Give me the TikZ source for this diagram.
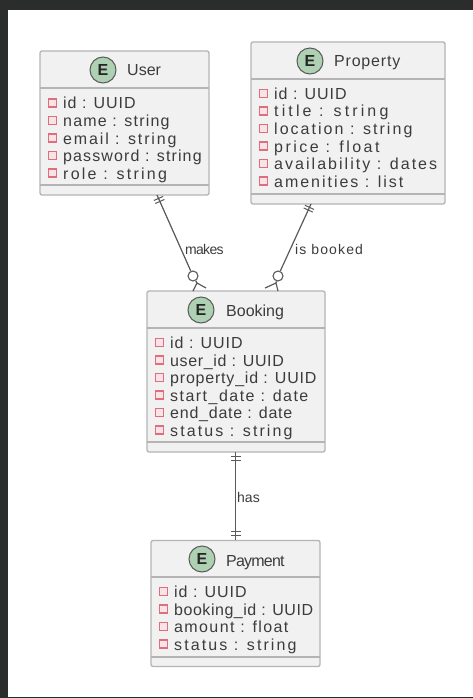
\documentclass[tikz,border=0pt]{standalone}
\usepackage{fontspec}
\setmainfont{Liberation Sans}
\definecolor{framegray}{HTML}{2B2D2D}
\definecolor{boxfill}{HTML}{F1F1F1}
\definecolor{boxline}{HTML}{B4B4B4}
\definecolor{inkgray}{HTML}{3C3C3C}
\definecolor{linegray}{HTML}{5A5A5A}
\definecolor{spotgreen}{HTML}{ADD1B2}
\definecolor{markred}{HTML}{DE6E7C}
\definecolor{markfill}{HTML}{F8E4E6}
\tikzstyle{entity}=[draw=boxline,fill=boxfill,line width=1.3pt,rounded corners=2pt,inner sep=0pt]
\tikzstyle{divider}=[draw=boxline,line width=1.3pt]
\tikzstyle{spot}=[circle,draw=linegray,fill=spotgreen,line width=1pt,minimum size=26pt,inner sep=0pt,text=black!85,font=\fontsize{16}{16}\selectfont\bfseries]
\tikzstyle{title}=[anchor=base west,inner sep=0pt,text=inkgray]
\tikzstyle{marker}=[rectangle,draw=markred,fill=markfill,line width=1.6pt,minimum size=8pt,inner sep=0pt]
\tikzstyle{attr}=[anchor=base west,inner sep=0pt,text=inkgray]
\tikzstyle{ring}=[circle,draw=linegray,fill=white,line width=1.1pt,minimum size=10pt,inner sep=0pt]
\tikzstyle{rel}=[draw=linegray,line width=1.2pt]
\tikzstyle{tick}=[fill=linegray,minimum width=1pt,minimum height=10pt,inner sep=0pt,sloped]
\tikzstyle{rellabel}=[anchor=base west,inner sep=0pt,text=inkgray]
\tikzset{ls/.style={font=\fontsize{16}{16}\selectfont\addfontfeature{LetterSpace=#1}}}
\tikzset{ts/.style={font=\fontsize{16}{16}\selectfont\addfontfeature{LetterSpace=#1}}}
\tikzset{rs/.style={font=\fontsize{14}{14}\selectfont\addfontfeature{LetterSpace=#1}}}

\begin{document}
\begin{tikzpicture}[x=1pt,y=-1pt]
\useasboundingbox (0,0) rectangle (473,698);
\fill[framegray] (0,0) rectangle (473,698);
\fill[white] (8,10) rectangle (473,696.5);

\node[entity,minimum width=169pt,minimum height=144pt] at (124.5,123) (user) {};
\draw[divider] (40,88) -- (209,88);
\draw[divider] (40,185) -- (209,185);
\node[spot] at (103,70) (userspot) {E};
\node[title,ts=0] at (127,76) (usertitle) {User};
\node[attr,ls=6] at (63,109) (userid) {id : UUID};
\node[attr,ls=7.5] at (63,126.5) (username) {name : string};
\node[attr,ls=11.7] at (63,144) (useremail) {email : string};
\node[attr,ls=7] at (63,161.5) (userpass) {password : string};
\node[attr,ls=14] at (63,179) (userrole) {role : string};
\node[marker] at (52.5,103) (usermark1) {};
\node[marker] at (52.5,120.5) (usermark2) {};
\node[marker] at (52.5,138) (usermark3) {};
\node[marker] at (52.5,155.5) (usermark4) {};
\node[marker] at (52.5,173) (usermark5) {};

\node[entity,minimum width=194pt,minimum height=162pt] at (348,123) (property) {};
\draw[divider] (251,79) -- (445,79);
\draw[divider] (251,194) -- (445,194);
\node[spot] at (310,61) (propspot) {E};
\node[title,ts=5] at (334,67) (proptitle) {Property};
\node[attr,ls=6] at (274,99.5) (propid) {id : UUID};
\node[attr,ls=19.5] at (274,117) (proptitl) {title : string};
\node[attr,ls=12.7] at (274,134.5) (propplace) {location : string};
\node[attr,ls=15.5] at (274,152) (propprice) {price : float};
\node[attr,ls=12.7] at (274,169.5) (propavail) {availability : dates};
\node[attr,ls=12.3] at (274,187) (propamen) {amenities : list};
\node[marker] at (263.5,93.5) (propmark1) {};
\node[marker] at (263.5,111) (propmark2) {};
\node[marker] at (263.5,128.5) (propmark3) {};
\node[marker] at (263.5,146) (propmark4) {};
\node[marker] at (263.5,163.5) (propmark5) {};
\node[marker] at (263.5,181) (propmark6) {};

\node[entity,minimum width=178pt,minimum height=161pt] at (236,371.5) (booking) {};
\draw[divider] (147,328) -- (325,328);
\draw[divider] (147,442) -- (325,442);
\node[spot] at (201,310) (bookspot) {E};
\node[title,ts=0] at (226,316) (booktitle) {Booking};
\node[attr,ls=6] at (170,348.5) (bookid) {id : UUID};
\node[attr,ls=4] at (170,366) (bookuser) {user\_id : UUID};
\node[attr,ls=5] at (170,383.5) (bookprop) {property\_id : UUID};
\node[attr,ls=9.2] at (170,401) (bookstart) {start\_date : date};
\node[attr,ls=4.8] at (170,418.5) (bookend) {end\_date : date};
\node[attr,ls=13] at (170,436) (bookstatus) {status : string};
\node[marker] at (159.5,342.5) (bookmark1) {};
\node[marker] at (159.5,360) (bookmark2) {};
\node[marker] at (159.5,377.5) (bookmark3) {};
\node[marker] at (159.5,395) (bookmark4) {};
\node[marker] at (159.5,412.5) (bookmark5) {};
\node[marker] at (159.5,430) (bookmark6) {};

\node[entity,minimum width=169pt,minimum height=126pt] at (235.5,603.5) (payment) {};
\draw[divider] (151,577) -- (320,577);
\draw[divider] (151,657) -- (320,657);
\node[spot] at (202,559) (payspot) {E};
\node[title,ts=-5] at (226,566) (paytitle) {Payment};
\node[attr,ls=6] at (174,597.5) (payid) {id : UUID};
\node[attr,ls=3.3] at (174,615) (paybook) {booking\_id : UUID};
\node[attr,ls=8.7] at (174,632.5) (payamount) {amount : float};
\node[attr,ls=13] at (174,650) (paystatus) {status : string};
\node[marker] at (163.5,591.5) (paymark1) {};
\node[marker] at (163.5,609) (paymark2) {};
\node[marker] at (163.5,626.5) (paymark3) {};
\node[marker] at (163.5,644) (paymark4) {};

\coordinate (userfoot) at (157,195);
\coordinate (propfoot) at (311,204);
\coordinate (bookfoot) at (235.5,452);
\coordinate (payhead) at (235.5,540);
\node[ring] at (193,276) (makesring) {};
\node[ring] at (278,276) (bookedring) {};
\coordinate (makesapex) at (197,283);
\coordinate (makesleft) at (193,291);
\coordinate (makesright) at (206,288);
\coordinate (bookedapex) at (276,283);
\coordinate (bookedleft) at (265,288);
\coordinate (bookedright) at (278,291);

\draw[rel] (userfoot) -- node[tick,pos=.045] {} node[tick,pos=.085] {} (makesring);
\draw[rel] (propfoot) -- node[tick,pos=.05] {} node[tick,pos=.09] {} (bookedring);
\draw[rel] (bookfoot) -- node[tick,pos=.055] {} node[tick,pos=.095] {} node[tick,pos=.905] {} node[tick,pos=.945] {} (payhead);
\draw[rel] (makesring) -- (makesapex);
\draw[rel] (makesleft) -- (makesapex) -- (makesright);
\draw[rel] (bookedring) -- (bookedapex);
\draw[rel] (bookedleft) -- (bookedapex) -- (bookedright);

\node[rellabel,rs=-5] at (185,254) (makeslabel) {makes};
\node[rellabel,rs=8] at (295,254) (bookedlabel) {is booked};
\node[rellabel,rs=0] at (237,502) (haslabel) {has};
\end{tikzpicture}
\end{document}
